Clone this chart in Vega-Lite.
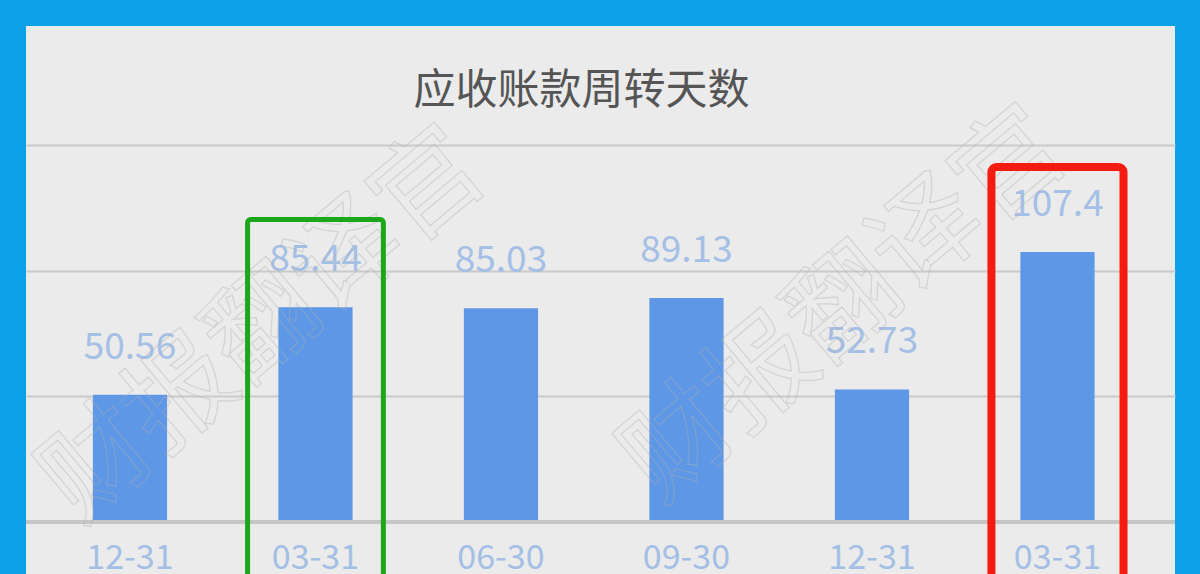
{
  "$schema": "https://vega.github.io/schema/vega-lite/v6.json",
  "width": 1149,
  "height": 548,
  "autosize": "none",
  "padding": {"left": 26, "top": 26, "right": 25, "bottom": 0},
  "background": "#0aa1e8",
  "config": {
    "view": {"fill": "#ebebeb", "stroke": null},
    "font": "Noto Sans CJK SC"
  },
  "title": {
    "text": "应收账款周转天数",
    "fontSize": 42,
    "font": "Noto Sans CJK SC",
    "fontWeight": "normal",
    "color": "#555555",
    "anchor": "middle",
    "frame": "group",
    "baseline": "alphabetic",
    "offset": -120,
    "dx": -19
  },
  "datasets": {
    "bars": [
      {"date": "2019-12-31", "v": 50.56},
      {"date": "2020-03-31", "v": 85.44},
      {"date": "2020-06-30", "v": 85.03},
      {"date": "2020-09-30", "v": 89.13},
      {"date": "2020-12-31", "v": 52.73},
      {"date": "2021-03-31", "v": 107.4}
    ],
    "boxes": [
      {"date": "2020-03-31", "top": 120.3, "bottom": -25, "kind": "green"},
      {"date": "2021-03-31", "top": 141.2, "bottom": -25, "kind": "red"}
    ],
    "marks": [
      {"date": "2020-03-31", "v": 94.3, "t": "财报翻译官", "shift": "a"},
      {"date": "2020-12-31", "v": 94.3, "t": "财报翻译官", "shift": "b"}
    ]
  },
  "encoding": {
    "x": {
      "field": "date",
      "type": "nominal",
      "sort": null,
      "scale": {
        "domain": ["2019-12-31", "2020-03-31", "2020-06-30", "2020-09-30", "2020-12-31", "2021-03-31"],
        "paddingInner": 0.6,
        "paddingOuter": 0.397,
        "align": 0.454,
        "round": false
      },
      "axis": {
        "orient": "bottom",
        "offset": -52,
        "title": null,
        "domain": false,
        "ticks": false,
        "tickSize": 0,
        "labelAngle": 0,
        "labelExpr": "slice(datum.value, 5)",
        "labelFont": "Noto Sans CJK SC",
        "labelFontSize": 34,
        "labelColor": "#a3bfe5",
        "labelBaseline": "alphabetic",
        "labelPadding": 46,
        "grid": false
      }
    }
  },
  "layer": [
    {
      "data": {"name": "bars"},
      "mark": {"type": "bar", "color": "#5d97e6"},
      "encoding": {
        "y": {
          "field": "v",
          "type": "quantitative",
          "scale": {"domain": [-20.7, 197.3], "nice": false, "zero": false},
          "axis": {
            "title": null,
            "labels": false,
            "ticks": false,
            "domain": false,
            "grid": true,
            "values": [50, 100, 150],
            "gridColor": "#cacaca",
            "gridWidth": 2
          }
        }
      }
    },
    {
      "data": {"values": [{"v": 0}]},
      "mark": {"type": "rule", "color": "#c6c6c6", "strokeWidth": 4},
      "encoding": {"y": {"field": "v", "type": "quantitative"}, "x": {"value": 0}, "x2": {"value": 1149}}
    },
    {
      "data": {"name": "bars"},
      "mark": {"type": "text", "dy": -36, "baseline": "alphabetic", "align": "center", "fontSize": 37, "font": "Noto Sans CJK SC", "color": "#a5c0e6"},
      "encoding": {
        "y": {"field": "v", "type": "quantitative"},
        "text": {"field": "v", "type": "nominal"}
      }
    },
    {
      "data": {"name": "marks"},
      "transform": [{"filter": "datum.shift == 'a'"}],
      "mark": {"type": "text", "angle": -40, "dx": -66, "align": "center", "baseline": "middle", "fontSize": 108, "font": "Noto Sans CJK SC", "fill": null, "stroke": "#b0b0b0", "strokeWidth": 1.2, "opacity": 0.4},
      "encoding": {
        "y": {"field": "v", "type": "quantitative"},
        "text": {"field": "t"}
      }
    },
    {
      "data": {"name": "marks"},
      "transform": [{"filter": "datum.shift == 'b'"}],
      "mark": {"type": "text", "angle": -40, "dx": -34, "align": "center", "baseline": "middle", "fontSize": 108, "font": "Noto Sans CJK SC", "fill": null, "stroke": "#b0b0b0", "strokeWidth": 1.2, "opacity": 0.4},
      "encoding": {
        "y": {"field": "v", "type": "quantitative"},
        "text": {"field": "t"}
      }
    },
    {
      "data": {"name": "boxes"},
      "transform": [{"filter": "datum.kind == 'green'"}],
      "mark": {"type": "bar", "width": {"band": 1.83}, "fill": null, "fillOpacity": 0, "stroke": "#1aa81a", "strokeWidth": 5, "cornerRadius": 3, "clip": false},
      "encoding": {
        "y": {"field": "top", "type": "quantitative"},
        "y2": {"field": "bottom"}
      }
    },
    {
      "data": {"name": "boxes"},
      "transform": [{"filter": "datum.kind == 'red'"}],
      "mark": {"type": "bar", "width": {"band": 1.78}, "fill": null, "fillOpacity": 0, "stroke": "#f41c10", "strokeWidth": 8, "cornerRadius": 5, "clip": false},
      "encoding": {
        "y": {"field": "top", "type": "quantitative"},
        "y2": {"field": "bottom"}
      }
    }
  ]
}
